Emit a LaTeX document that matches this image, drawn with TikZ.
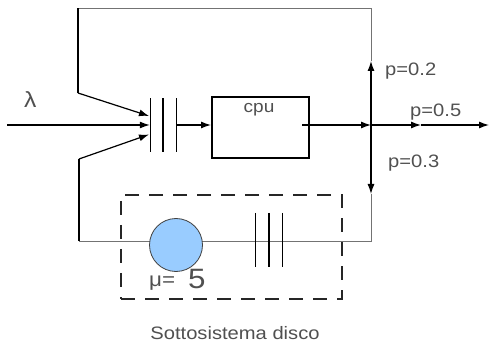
\documentclass[tikz,border=0pt]{standalone}
\usepackage{fontspec}
\setmainfont{Liberation Sans}[FakeStretch=1.12]
\usetikzlibrary{arrows.meta}
\definecolor{diskblue}{RGB}{153,204,255}
\definecolor{txt}{RGB}{80,80,80}
\begin{document}
\begin{tikzpicture}[x=1pt,y=-1pt,
  >={Latex[length=10pt,width=7pt]},
  wire/.style={line width=1.2pt, black},
  thinwire/.style={line width=0.9pt, black!55},
  bar/.style={line width=1.3pt, black},
  lbl/.style={inner sep=0pt, anchor=base west, text=txt, font=\fontsize{18}{20}\selectfont}]
\useasboundingbox (0,0) rectangle (492,344);
% nodes
\node[minimum width=26pt, minimum height=53pt, inner sep=0pt] (q) at (163,125) {};
\node[draw, line width=1.2pt, minimum width=97pt, minimum height=61pt, inner sep=0pt] (cpu) at (260.5,127.5) {};
\node[inner sep=0pt, anchor=base, text=txt, font=\fontsize{17}{19}\selectfont] (cpulbl) at (259,113) {cpu};
\node[draw=black!85, dashed, dash pattern=on 14pt off 10pt, line width=1.3pt, minimum width=221pt, minimum height=104pt, inner sep=0pt] (sub) at (231.5,247) {};
\node[minimum width=26pt, minimum height=54pt, inner sep=0pt] (dq) at (269,240) {};
% coordinates
\coordinate (in) at (7,125);
\coordinate (j) at (371,125);
\coordinate (tr) at (371,8);
\coordinate (tl) at (78,8);
\coordinate (lu) at (78,93);
\coordinate (br) at (371,241);
\coordinate (bl) at (79,241);
\coordinate (ll) at (79,159);
\coordinate (up) at (371,61);
\coordinate (dn) at (371,194);
\coordinate (mid) at (421,125);
\coordinate (out) at (489,125);
\coordinate (qin1) at (149,116);
\coordinate (qin2) at (149,134.5);
\coordinate (cpuin) at (211,125);
\coordinate (cpuout) at (302,125);
% lines
\draw[thinwire] (tl) -- (tr) -- (up);
\draw[wire] (lu) -- (tl);
\draw[wire,->] (lu) -- (qin1);
\draw[wire,->] (in) -- (q.west);
\draw[wire] (ll) -- (bl);
\draw[wire,->] (ll) -- (qin2);
\draw[thinwire] (bl) -- (br) -- (dn);
\draw[wire,->] (q.east) -- (cpuin);
\draw[wire,->] (cpuout) -- (j);
\draw[wire,->] (j) -- (up);
\draw[wire,->] (j) -- (dn);
\draw[wire,->] (j) -- (mid);
\draw[wire,->] (mid) -- (out);
% queue bars
\draw[bar] ([xshift=0.5pt]q.north west) -- ([xshift=0.5pt]q.south west)
  (q.north) -- (q.south) (q.north east) -- (q.south east);
\draw[bar] (dq.north west) -- (dq.south west) (dq.north) -- (dq.south) (dq.north east) -- (dq.south east);
% disk server
\node[circle, draw=black!75, line width=0.8pt, fill=diskblue, minimum size=53pt, inner sep=0pt] (disk) at (176,245) {};
% labels
\node[lbl, font=\fontsize{22}{24}\selectfont] (lam) at (24,108) {λ};
\node[lbl] (p2) at (385,76) {p=0.2};
\node[lbl] (p5) at (410,117) {p=0.5};
\node[lbl] (p3) at (388,168) {p=0.3};
\node[lbl, font=\fontsize{20}{22}\selectfont] (mu) at (149,287) {μ=};
\node[lbl, font=\fontsize{28}{30}\selectfont] (five) at (188,289) {5};
\node[lbl, anchor=base] (title) at (235,339) {Sottosistema disco};
\end{tikzpicture}
\end{document}
